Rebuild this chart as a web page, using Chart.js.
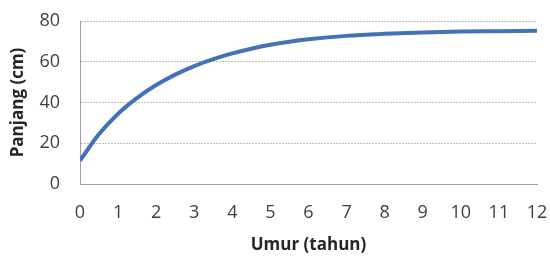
<!DOCTYPE html>
<html>
<head>
<meta charset="utf-8">
<script src="https://cdn.jsdelivr.net/npm/chart.js@4"></script>
<style>
html,body{margin:0;padding:0;background:#fff;}
#wrap{width:550px;height:257px;position:relative;}
</style>
</head>
<body>
<div id="wrap"><canvas id="c" width="550" height="257"></canvas></div>
<script>
const ages = [0, 0.5, 1, 1.5, 2, 2.5, 3, 3.5, 4, 4.5, 5, 5.5, 6, 7, 8, 9, 10, 11, 12];
const lengths = [11.5, 24.5, 34.5, 42.3, 48.6, 53.7, 57.9, 61.3, 64.1, 66.4, 68.3, 69.8, 71.0, 72.7, 73.7, 74.4, 74.8, 75.0, 75.2];
const xTicks = [0,1,2,3,4,5,6,7,8,9,10,11,12];
const yTicks = [0,20,40,60,80];
const xTitle = 'Umur (tahun)';
const yTitle = 'Panjang (cm)';

const pts = ages.map((a,i)=>({x:a,y:lengths[i]}));
const FONT = "'Open Sans', sans-serif";

new Chart(document.getElementById('c'), {
  type: 'line',
  data: { datasets: [{ data: pts, borderColor: '#4472b8', borderWidth: 4, pointRadius: 0, fill: false, cubicInterpolationMode: 'monotone' }] },
  options: {
    responsive: false, animation: false,
    layout: { padding: 0 },
    plugins: { legend: { display: false }, tooltip: { enabled: false } },
    scales: {
      x: {
        type: 'linear', min: 0, max: 12,
        afterBuildTicks: s => { s.ticks = xTicks.map(v=>({value:v})); },
        afterFit: s => { s.height = 73; s.paddingLeft = 0; s.paddingRight = 13; },
        grid: { display: false, drawTicks: false },
        border: { display: true, color: '#a0a0a0', width: 1 },
        ticks: { color: '#404040', font: { family: FONT, size: 18 }, padding: 18, maxRotation: 0 },
        title: { display: true, text: xTitle, color: '#262626', font: { family: FONT, size: 17, weight: 'bold' }, padding: { top: 0, bottom: 2 } }
      },
      y: {
        min: 0, max: 80,
        afterBuildTicks: s => { s.ticks = yTicks.map(v=>({value:v})); },
        afterFit: s => { s.width = 80; s.paddingTop = 21; s.paddingBottom = 0; },
        grid: { color: '#bcbcbc', lineWidth: 1, drawTicks: false },
        border: { display: true, color: '#a0a0a0', width: 1, dash: [2,1] },
        ticks: { color: '#404040', font: { family: FONT, size: 18 }, padding: 20 },
        title: { display: true, text: yTitle, color: '#262626', font: { family: FONT, size: 17, weight: 'bold' }, padding: { top: 8, bottom: 0 } }
      }
    }
  }
});
</script>
</body>
</html>
